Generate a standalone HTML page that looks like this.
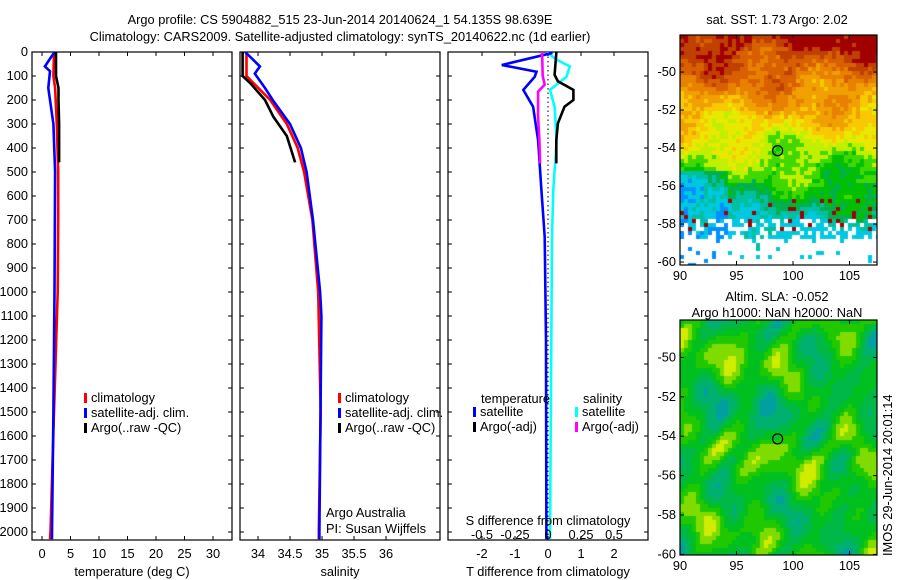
<!DOCTYPE html>
<html><head><meta charset="utf-8">
<style>
body{margin:0;background:#fff;}
#wrap{position:relative;width:900px;height:580px;overflow:hidden;font-family:"Liberation Sans",sans-serif;}
svg{position:absolute;left:0;top:0;}
canvas{position:absolute;}
text{font-family:"Liberation Sans",sans-serif;font-size:12.8px;fill:#000;}
</style></head>
<body>
<div id="wrap">
<canvas id="sst" width="197" height="230" style="left:680px;top:35px"></canvas>
<canvas id="sla" width="197" height="235" style="left:680px;top:320px"></canvas>
<svg id="chart" width="900" height="580"></svg>
</div>
<script>
// ---- data ----
const tDepth = [0,60,80,150,250,300,500,1000,1500,2000,2030];
const tSat   = [2.2,0.5,1.4,1.1,1.7,2.0,2.3,2.2,2.0,1.75,1.75];
const cDepth = [0,100,150,300,500,700,1000,1500,2000,2030];
const tClim  = [2.1,2.0,2.3,2.6,2.85,2.85,2.75,2.1,1.5,1.4];
const aDepth = [0,100,150,200,300,460];
const tArgo  = [2.45,2.45,2.9,2.9,3.0,3.0];

const sBDepth = [0,60,90,150,200,300,400,500,700,1000,1100,2000,2030];
const sSat    = [33.80,34.03,33.95,34.11,34.23,34.50,34.67,34.76,34.86,34.97,34.99,34.96,34.96];
const sCDepth = [0,100,130,200,300,400,500,700,1000,1500,2000,2030];
const sClim   = [33.82,33.82,33.93,34.19,34.45,34.62,34.72,34.85,34.94,34.98,34.95,34.95];
const sADepth = [0,100,130,200,270,350,460];
const sArgo   = [33.76,33.76,33.88,34.11,34.24,34.45,34.58];

const dTDepth = [0,5,54,82,103,158,228,367,575,770,1200,2030];
const dTSat   = [0.1,0.1,-1.4,-0.35,-0.4,-0.75,-0.45,-0.3,-0.2,-0.1,-0.06,-0.05];
const dSDepth = [0,5,32,60,103,158,228,367,575,770,2030];
const dSSat   = [0,0,0.065,0.165,0.14,0.015,0.05,0.065,0.04,0.03,0.015];
const dTADepth= [0,5,95,122,158,200,228,297,367,464];
const dTArgo  = [0.25,0.25,0.2,0.3,0.77,0.77,0.5,0.3,0.25,0.25];
const dSADepth= [0,5,100,136,165,270,367,464];
const dSArgo  = [-0.045,-0.045,-0.04,-0.025,-0.075,-0.075,-0.065,-0.06];

const depthTicks=[0,100,200,300,400,500,600,700,800,900,1000,1100,1200,1300,1400,1500,1600,1700,1800,1900,2000];
const tTicks=[0,5,10,15,20,25,30];
const sTicks=[34,34.5,35,35.5,36];
const dTTicks=[-2,-1,0,1,2];
const dSTicks=[-0.5,-0.25,0,0.25,0.5];
const dSTickLabels=['-0.5','-0.25','0','0.25','0.5'];
const latTicks=[-50,-52,-54,-56,-58,-60];
const lonTicks=[90,95,100,105];

// ---- helpers ----
const svg=document.getElementById('chart');
const NS='http://www.w3.org/2000/svg';
function el(tag,attrs,txt){const e=document.createElementNS(NS,tag);for(const k in attrs)e.setAttribute(k,attrs[k]);if(txt!==undefined)e.textContent=txt;svg.appendChild(e);return e;}
const Y0=52, YTOP=52, YBOT=540;
const yD=d=>Y0+d*0.24;
const xT=v=>42+5.7*v;
const xS=v=>258+64*(v-34);
const xDT=v=>548+33*v;
const xDS=v=>548+132*v;

function box(x0,x1,y0,y1,name){
  const r=el('rect',{x:x0,y:y0,width:x1-x0,height:y1-y0,fill:'none',stroke:'#000','stroke-width':1.2});
  
  
}
function line(xs,ds,xf,color,name){
  const pts=xs.map((v,i)=>xf(v).toFixed(1)+','+yD(ds[i]).toFixed(1)).join(' ');
  const p=el('polyline',{points:pts,fill:'none',stroke:color,'stroke-width':2.6,'stroke-linejoin':'miter'});
  
  
}
function xticks(x0,x1,ticks,xf,labels,ly,name){
  ticks.forEach((t,i)=>{
    const x=xf(t);
    el('line',{x1:x,x2:x,y1:YTOP,y2:YTOP+4,stroke:'#000'});
    el('line',{x1:x,x2:x,y1:YBOT,y2:YBOT-4,stroke:'#000'});
    if(ly){const tx=el('text',{x:x,y:ly,'text-anchor':'middle'},labels?labels[i]:String(t));
      
      }
  });
}
function yticks(x0,x1,labels){
  depthTicks.forEach(d=>{
    const y=yD(d);
    el('line',{x1:x0,x2:x0+4,y1:y,y2:y,stroke:'#000'});
    el('line',{x1:x1,x2:x1-4,y1:y,y2:y,stroke:'#000'});
    if(labels){const t=el('text',{x:x0-4,y:y+4,'text-anchor':'end'},String(d));
      
      }
  });
}
function legend(x,y,color,label){
  el('rect',{x:x,y:y-9,width:3,height:10,fill:color});
  const t=el('text',{x:x+7,y:y},label);
  
  
}

// titles
let t1=el('text',{x:340,y:24,'text-anchor':'middle','font-size':'13.5'},'Argo profile: CS 5904882_515 23-Jun-2014 20140624_1 54.135S 98.639E');

let t2=el('text',{x:340,y:41,'text-anchor':'middle','font-size':'13.5'},'Climatology: CARS2009. Satellite-adjusted climatology: synTS_20140622.nc (1d earlier)');


// panel 1 temperature
box(32,232,YTOP,YBOT,'temperature-axes');
yticks(32,232,true);
xticks(32,232,tTicks,xT,null,558,'temperature');
line(tClim,cDepth,xT,'#ff0000','temperature-climatology-line');
line(tSat,tDepth,xT,'#0000ff','temperature-satellite-line');
line(tArgo,aDepth,xT,'#000000','temperature-argo-line');
legend(84,402,'#ff0000','climatology');
legend(84,417,'#0000ff','satellite-adj. clim.');
legend(84,432,'#000000','Argo(..raw -QC)');
let xl1=el('text',{x:132,y:576,'text-anchor':'middle'},'temperature (deg C)');


// panel 2 salinity
box(240,440,YTOP,YBOT,'salinity-axes');
yticks(240,440,false);
xticks(240,440,sTicks,xS,['34','34.5','35','35.5','36'],558,'salinity');
line(sClim,sCDepth,xS,'#ff0000','salinity-climatology-line');
line(sSat,sBDepth,xS,'#0000ff','salinity-satellite-line');
line(sArgo,sADepth,xS,'#000000','salinity-argo-line');
legend(338,402,'#ff0000','climatology');
legend(338,417,'#0000ff','satellite-adj. clim.');
legend(338,432,'#000000','Argo(..raw -QC)');
let n1=el('text',{x:326,y:517},'Argo Australia');
let n2=el('text',{x:326,y:533},'PI: Susan Wijffels');
let xl2=el('text',{x:340,y:576,'text-anchor':'middle'},'salinity');


// panel 3 differences
box(448,648,YTOP,YBOT,'difference-axes');
yticks(448,648,false);
xticks(448,648,dTTicks,xDT,null,558,'t-difference');
el('line',{x1:548,x2:548,y1:YTOP,y2:YBOT,stroke:'#000','stroke-dasharray':'1.5,3'});
line(dSSat,dSDepth,xDS,'#00ffff','salinity-diff-satellite-line');
line(dTSat,dTDepth,xDT,'#0000ff','temperature-diff-satellite-line');
line(dTArgo,dTADepth,xDT,'#000000','temperature-diff-argo-line');
line(dSArgo,dSADepth,xDS,'#ff00ff','salinity-diff-argo-line');
dSTicks.forEach((t,i)=>{const tx=el('text',{x:xDS(t),y:539,'text-anchor':'middle'},dSTickLabels[i]);
  });
let sl=el('text',{x:548,y:525,'text-anchor':'middle'},'S difference from climatology');

let lt=el('text',{x:481,y:403},'temperature');
let ls=el('text',{x:583,y:403},'salinity');
legend(473,416,'#0000ff','satellite');
legend(473,431,'#000000','Argo(-adj)');
legend(575,416,'#00ffff','satellite');
legend(575,431,'#ff00ff','Argo(-adj)');
let xl3=el('text',{x:548,y:576,'text-anchor':'middle'},'T difference from climatology');


// maps axes
function mapAxes(x0,y0,w,h,latTop,pxPerLat,name){
  box(x0,x0+w,y0,y0+h,name);
  const xl=v=>680+11.3*(v-90);
  lonTicks.forEach(v=>{const x=xl(v);
    el('line',{x1:x,x2:x,y1:y0,y2:y0+4,stroke:'#000'});
    el('line',{x1:x,x2:x,y1:y0+h,y2:y0+h-4,stroke:'#000'});
    const t=el('text',{x:x,y:y0+h+15,'text-anchor':'middle'},String(v));
    });
  latTicks.forEach(v=>{const y=y0+(latTop-v)*pxPerLat;
    el('line',{x1:x0,x2:x0+4,y1:y,y2:y,stroke:'#000'});
    el('line',{x1:x0+w,x2:x0+w-4,y1:y,y2:y,stroke:'#000'});
    const t=el('text',{x:x0-4,y:y+4,'text-anchor':'end'},String(v));
    });
  const cx=680+11.3*(98.639-90), cy=y0+(latTop+54.135)*pxPerLat;
  const c=el('circle',{cx:cx,cy:cy,r:5,fill:'none',stroke:'#000','stroke-width':1.2});
  
}
mapAxes(680,35,197,230,-48.05,19.0,'sst-map-axes');
mapAxes(680,320,197,235,-48.1,19.7,'sla-map-axes');
let m1=el('text',{x:777,y:24,'text-anchor':'middle'},'sat. SST: 1.73 Argo: 2.02');

let m2=el('text',{x:777,y:301,'text-anchor':'middle'},'Altim. SLA: -0.052');

let m3=el('text',{x:777,y:317,'text-anchor':'middle'},'Argo h1000: NaN h2000: NaN');

let im=el('text',{x:0,y:0,transform:'translate(892,556) rotate(-90)'},'IMOS 29-Jun-2014 20:01:14');


// ---- map imagery (texture) ----
function hash(i,j){let h=Math.sin(i*127.1+j*311.7)*43758.5453;return h-Math.floor(h);}
const pal=['#a00000','#c04000','#d86000','#e88000','#f0a000','#f8c800','#e8e800','#c0f000','#40d800','#00c000','#00b050','#00c0a0','#00c8e0','#0090ff'];
(function(){
  const c=document.getElementById('sst').getContext('2d');
  const cs=4;
  for(let j=0;j<230/cs;j++)for(let i=0;i<197/cs;i++){
    const lat=-48.05-(j*cs)/19;
    let v=(-48-lat)*1.15;
    v+=Math.sin(i*0.35+j*0.2)*0.7+Math.sin(i*0.13-j*0.31)*0.8+(hash(i,j)-0.5)*1.4;
    if(lat<-55&&i<12) v+=1.8;
    if(lat<-58.6 && hash(i+3,j)<0.88) continue;
    if(lat<-57.7 && hash(i,j+7)<0.35) continue;
    if(i>=12) v=Math.min(v,12.4);
    let idx=Math.max(0,Math.min(pal.length-1,Math.round(v)));
    if(lat<-56.5 && lat>-58.3 && hash(i*3,j*5)<0.07) idx=0;
    c.fillStyle=pal[idx];c.fillRect(i*cs,j*cs,cs,cs);
  }
})();
(function(){
  const c=document.getElementById('sla').getContext('2d');
  const cs=4;
  const sp=['#00a0a0','#00b070','#00b848','#00c020','#20c800','#80dc00','#d0ec00','#f0f000'];
  for(let j=0;j<235/cs;j++)for(let i=0;i<197/cs;i++){
    let v=3+Math.sin(i*0.45+j*0.12+Math.sin(j*0.2)*2)*1.2+Math.sin(i*0.23-j*0.29+1+Math.cos(i*0.1)*2)*1.3+Math.sin(i*0.71+j*0.43)*0.6+Math.sin(j*0.17+i*0.05)*0.5;
    let idx=Math.max(0,Math.min(sp.length-1,Math.round(v)));
    c.fillStyle=sp[idx];c.fillRect(i*cs,j*cs,cs,cs);
  }
})();
</script>
</body></html>
